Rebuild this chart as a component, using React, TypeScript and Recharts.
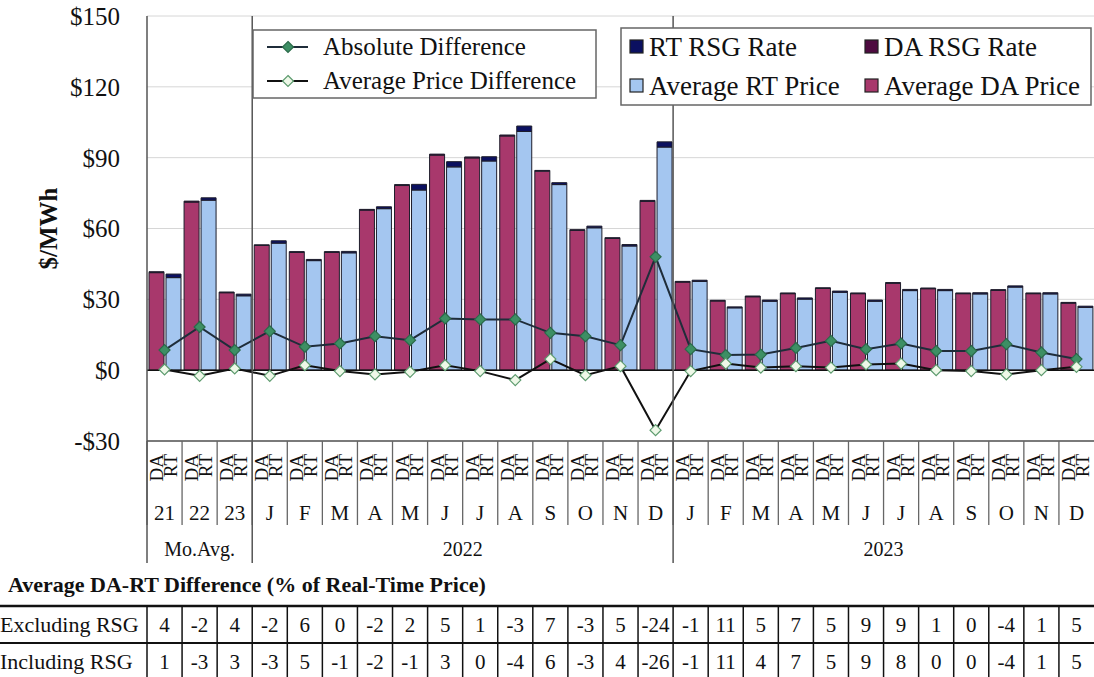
import React from "react";
import {
  ComposedChart,
  Bar,
  Line,
  XAxis,
  YAxis,
  CartesianGrid,
  ReferenceLine,
} from "recharts";

// periods: 3 yearly monthly averages, then 2022 and 2023 months
const periods = [
  "2021", "2022", "2023",
  "Jan-22", "Feb-22", "Mar-22", "Apr-22", "May-22", "Jun-22", "Jul-22", "Aug-22", "Sep-22", "Oct-22", "Nov-22", "Dec-22",
  "Jan-23", "Feb-23", "Mar-23", "Apr-23", "May-23", "Jun-23", "Jul-23", "Aug-23", "Sep-23", "Oct-23", "Nov-23", "Dec-23",
];
const groupLabels = [
  "21", "22", "23",
  "J", "F", "M", "A", "M", "J", "J", "A", "S", "O", "N", "D",
  "J", "F", "M", "A", "M", "J", "J", "A", "S", "O", "N", "D",
];
const spanLabels = [
  { label: "Mo.Avg.", from: 0, to: 3 },
  { label: "2022", from: 3, to: 15 },
  { label: "2023", from: 15, to: 27 },
];

const daPrice = [41.3, 71.2, 32.8, 52.8, 49.9, 49.9, 67.8, 78.2, 91.1, 89.9, 99.2, 84.3, 59.2, 55.8, 71.5, 37.3, 29.3, 31.1, 32.4, 34.6, 32.4, 36.8, 34.5, 32.4, 33.8, 32.4, 28.4];
const daRsg = [0.4, 0.4, 0.3, 0.3, 0.3, 0.3, 0.3, 0.4, 0.4, 0.4, 0.4, 0.3, 0.3, 0.3, 0.4, 0.3, 0.3, 0.3, 0.3, 0.3, 0.3, 0.3, 0.3, 0.3, 0.3, 0.3, 0.3];
const rtPrice = [39.2, 72.0, 31.5, 53.8, 46.4, 49.7, 68.4, 76.3, 86.1, 88.6, 101.1, 78.6, 60.3, 52.6, 94.5, 37.6, 26.4, 29.2, 30.1, 33.0, 29.2, 33.7, 33.7, 32.3, 35.2, 32.3, 26.6];
const rtRsg = [1.5, 1.0, 0.7, 1.0, 0.5, 0.6, 0.8, 2.4, 2.2, 1.8, 2.3, 0.8, 0.7, 0.6, 2.2, 0.5, 0.4, 0.5, 0.5, 0.5, 0.5, 0.5, 0.5, 0.5, 0.5, 0.5, 0.5];
const absDiff = [8.5, 18.3, 8.5, 16.5, 9.9, 11.3, 14.4, 12.7, 21.9, 21.5, 21.5, 15.8, 14.4, 10.6, 48, 8.9, 6.4, 6.6, 9.4, 12.4, 8.9, 11.3, 8.1, 8.1, 11, 7.5, 4.7];
const avgDiff = [0.3, -2.4, 0.7, -2.4, 2.1, -0.4, -1.8, -0.7, 2.1, -0.4, -4.2, 4.7, -2.1, 1.7, -25.4, -0.4, 2.8, 1.1, 1.7, 1.1, 2.4, 2.8, 0, -0.4, -1.8, 0, 1.4];

const exclRsg = [4, -2, 4, -2, 6, 0, -2, 2, 5, 1, -3, 7, -3, 5, -24, -1, 11, 5, 7, 5, 9, 9, 1, 0, -4, 1, 5];
const inclRsg = [1, -3, 3, -3, 5, -1, -2, -1, 3, 0, -4, 6, -3, 4, -26, -1, 11, 4, 7, 5, 9, 8, 0, 0, -4, 1, 5];
const tableRows = [
  { label: "Excluding RSG", values: exclRsg },
  { label: "Including RSG", values: inclRsg },
];

const yTicks = [-30, 0, 30, 60, 90, 120, 150];

const data = periods.map((p, i) => ({
  period: p,
  daPrice: daPrice[i],
  daRsg: daRsg[i],
  rtPrice: rtPrice[i],
  rtRsg: rtRsg[i],
  absDiff: absDiff[i],
  avgDiff: avgDiff[i],
}));

const FONT = "Liberation Serif, Times New Roman, serif";
const CHART_W = 1094;
const CHART_H = 600;
const PLOT_LEFT = 147;
const PLOT_H = 425;
const GROUP_W = (CHART_W - PLOT_LEFT) / periods.length;

const C_DA = "#a8386c";
const C_DA_RSG = "#4e0b40";
const C_RT = "#a4c6f0";
const C_RT_RSG = "#0b1060";
const BAR_STROKE = "#1d1d2b";

const txt = (size: number, bold = false) => ({
  fontFamily: FONT,
  fontSize: size,
  fontWeight: bold ? 700 : 400,
  fill: "#111",
});

const diamond = (fill: string, stroke: string, tag: string) => (p: any) => {
  const { cx, cy, index } = p;
  if (cx == null || cy == null) return <g key={`${tag}-${index}`} />;
  const r = 5.5;
  return (
    <path
      key={`${tag}-${index}`}
      d={`M${cx},${cy - r}L${cx + r},${cy}L${cx},${cy + r}L${cx - r},${cy}Z`}
      fill={fill}
      stroke={stroke}
      strokeWidth={1.2}
    />
  );
};

const XTick = (props: any) => {
  const { x, y, index } = props;
  const left = x - GROUP_W / 2;
  const span = spanLabels.find((s) => s.from === index);
  return (
    <g>
      <line x1={left} x2={left} y1={y} y2={y + 84} stroke="#666" strokeWidth={1.3} />
      {span && (
        <line
          x1={left}
          x2={left}
          y1={index === 0 ? y : y - PLOT_H}
          y2={y + 122}
          stroke="#555"
          strokeWidth={1.5}
        />
      )}
      <text
        transform={`translate(${x - 8},${y + 13}) rotate(-90)`}
        textAnchor="end"
        dominantBaseline="central"
        style={txt(19)}
      >
        DA
      </text>
      <text
        transform={`translate(${x + 6},${y + 13}) rotate(-90)`}
        textAnchor="end"
        dominantBaseline="central"
        style={txt(19)}
      >
        RT
      </text>
      <text x={x} y={y + 79} textAnchor="middle" style={txt(21)}>
        {groupLabels[index]}
      </text>
      {span && (
        <text
          x={left + ((span.to - span.from) / 2) * GROUP_W}
          y={y + 115}
          textAnchor="middle"
          style={txt(20)}
        >
          {span.label}
        </text>
      )}
    </g>
  );
};

const fmtDollar = (v: number) => (v < 0 ? `-$${-v}` : `$${v}`);

export default function App() {
  return (
    <div
      style={{
        position: "absolute",
        left: 0,
        top: 0,
        width: 1094,
        height: 677,
        overflow: "hidden",
        background: "#fff",
        fontFamily: FONT,
      }}
    >
      <ComposedChart
        width={CHART_W}
        height={CHART_H}
        data={data}
        margin={{ top: 16, right: 0, bottom: 0, left: 0 }}
        barGap={2}
      >
        <CartesianGrid vertical={false} stroke="#d6d6d6" />
        <XAxis
          xAxisId="top"
          orientation="top"
          dataKey="period"
          height={0}
          tick={false}
          tickLine={false}
          axisLine={{ stroke: "#555", strokeWidth: 1.5 }}
        />
        <XAxis
          dataKey="period"
          height={159}
          interval={0}
          tickLine={false}
          tickSize={0}
          tickMargin={0}
          axisLine={{ stroke: "#555", strokeWidth: 1.5 }}
          tick={<XTick />}
        />
        <YAxis
          width={147}
          domain={[-30, 150]}
          ticks={yTicks}
          tickFormatter={fmtDollar}
          tickLine={false}
          tickSize={0}
          tickMargin={27}
          axisLine={{ stroke: "#555", strokeWidth: 1.5 }}
          tick={{ fontSize: 25, fontFamily: FONT, fill: "#111" }}
          label={{
            value: "$/MWh",
            angle: -90,
            position: "insideLeft",
            offset: 48,
            style: { fontSize: 25, fontWeight: "bold", fontFamily: FONT, fill: "#111", textAnchor: "middle" },
          }}
        />
        <Bar dataKey="daPrice" stackId="da" barSize={15} fill={C_DA} stroke={BAR_STROKE} strokeWidth={1} isAnimationActive={false} />
        <Bar dataKey="daRsg" stackId="da" barSize={15} fill={C_DA_RSG} stroke={BAR_STROKE} strokeWidth={1} isAnimationActive={false} />
        <Bar dataKey="rtPrice" stackId="rt" barSize={15} fill={C_RT} stroke={BAR_STROKE} strokeWidth={1} isAnimationActive={false} />
        <Bar dataKey="rtRsg" stackId="rt" barSize={15} fill={C_RT_RSG} stroke={BAR_STROKE} strokeWidth={1} isAnimationActive={false} />
        <ReferenceLine y={0} stroke="#111" strokeWidth={1.5} />
        <Line
          dataKey="absDiff"
          type="linear"
          stroke="#1f2d3a"
          strokeWidth={2}
          dot={diamond("#3d8f64", "#2b6b4a", "abs")}
          activeDot={false}
          isAnimationActive={false}
        />
        <Line
          dataKey="avgDiff"
          type="linear"
          stroke="#111"
          strokeWidth={2}
          dot={diamond("#eef8e8", "#5d9b6e", "avg")}
          activeDot={false}
          isAnimationActive={false}
        />
      </ComposedChart>

      <svg
        width={1094}
        height={677}
        style={{ position: "absolute", left: 0, top: 0, pointerEvents: "none" }}
      >
        {/* line legend */}
        <rect x={253} y={30} width={343} height={68} fill="#fff" stroke="#666" strokeWidth={1.5} />
        {[
          { label: "Absolute Difference", fill: "#3d8f64", stroke: "#2b6b4a", line: "#1f2d3a", cy: 47 },
          { label: "Average Price Difference", fill: "#eef8e8", stroke: "#5d9b6e", line: "#111", cy: 81 },
        ].map((it) => (
          <g key={it.label}>
            <line x1={267} x2={308} y1={it.cy} y2={it.cy} stroke={it.line} strokeWidth={2} />
            <path
              d={`M288,${it.cy - 5.5}L293.5,${it.cy}L288,${it.cy + 5.5}L282.5,${it.cy}Z`}
              fill={it.fill}
              stroke={it.stroke}
              strokeWidth={1.2}
            />
            <text x={323} y={it.cy + 8} style={txt(25)}>
              {it.label}
            </text>
          </g>
        ))}

        {/* bar legend */}
        <rect x={621} y={28} width={470} height={77} fill="#fff" stroke="#666" strokeWidth={1.5} />
        {[
          { label: "RT RSG Rate", fill: C_RT_RSG, x: 630, cy: 47 },
          { label: "DA RSG Rate", fill: C_DA_RSG, x: 865, cy: 47 },
          { label: "Average RT Price", fill: C_RT, x: 630, cy: 86 },
          { label: "Average DA Price", fill: C_DA, x: 865, cy: 86 },
        ].map((it) => (
          <g key={it.label}>
            <rect x={it.x} y={it.cy - 7} width={13} height={13} fill={it.fill} stroke="#222" strokeWidth={1.2} />
            <text x={it.x + 19} y={it.cy + 9} style={txt(27)}>
              {it.label}
            </text>
          </g>
        ))}

        {/* percentage table */}
        <text x={8} y={592} style={txt(22, true)}>
          Average DA-RT Difference (% of Real-Time Price)
        </text>
        <line x1={0} x2={1094} y1={606} y2={606} stroke="#111" strokeWidth={2.5} />
        <line x1={0} x2={1094} y1={643} y2={643} stroke="#111" strokeWidth={2} />
        <line x1={0} x2={1094} y1={680} y2={680} stroke="#111" strokeWidth={2} />
        {periods.map((p, i) => (
          <line
            key={`v-${p}`}
            x1={PLOT_LEFT + i * GROUP_W}
            x2={PLOT_LEFT + i * GROUP_W}
            y1={606}
            y2={680}
            stroke="#111"
            strokeWidth={1.5}
          />
        ))}
        {tableRows.map((row, r) => (
          <g key={row.label}>
            <text x={0} y={632 + r * 37} style={txt(22)}>
              {row.label}
            </text>
            {row.values.map((v, i) => (
              <text
                key={`${row.label}-${periods[i]}`}
                x={PLOT_LEFT + (i + 0.5) * GROUP_W}
                y={632 + r * 37}
                textAnchor="middle"
                style={txt(21)}
              >
                {v}
              </text>
            ))}
          </g>
        ))}
      </svg>
    </div>
  );
}
